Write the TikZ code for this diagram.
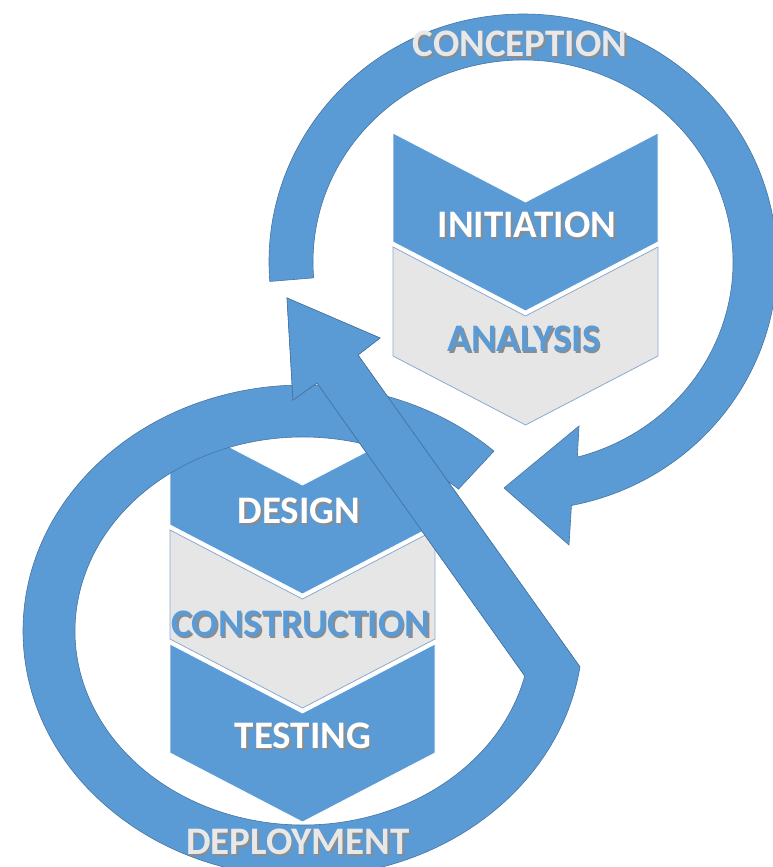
\documentclass[tikz,border=0pt]{standalone}
\usepackage{fontspec}
\setmainfont{Carlito}
\usetikzlibrary{calc}
\definecolor{ringblue}{RGB}{91,155,213}
\definecolor{ringedge}{RGB}{70,116,162}
\definecolor{stepgray}{RGB}{231,230,230}
\definecolor{stepedge}{RGB}{138,170,208}
\definecolor{labelgray}{RGB}{232,232,232}
\newcommand{\shadowed}[2]{\rlap{\hspace{1.5pt}\raisebox{-1.5pt}{\color{black!45}#2}}{\color{#1}#2}}

\begin{document}
\begin{tikzpicture}[x=1pt,y=-1pt,
    ring/.style={fill=ringblue,draw=ringedge,line width=0.6pt},
    bluestep/.style={fill=ringblue,draw=white,line width=0.8pt},
    graystep/.style={fill=stepgray,draw=stepedge,line width=0.8pt},
    steplabel/.style={font=\fontsize{39}{41}\selectfont\bfseries,inner sep=0pt}]
    \clip (0,0) rectangle (773,867);
    \coordinate (upper) at (523,262);
    \coordinate (lower) at (303,631);

    % phase chevrons
    \filldraw[bluestep] (393,133) -- ++(132.5,69) -- ++(132.5,-69) -- ++(0,109) -- ++(-132.5,69) -- ++(-132.5,-69) -- cycle;
    \filldraw[graystep] (393,247) -- ++(132.5,69) -- ++(132.5,-69) -- ++(0,109) -- ++(-132.5,69) -- ++(-132.5,-69) -- cycle;
    \filldraw[bluestep] (170,416) -- ++(132.5,69) -- ++(132.5,-69) -- ++(0,109) -- ++(-132.5,69) -- ++(-132.5,-69) -- cycle;
    \filldraw[graystep] (170,530) -- ++(132.5,69) -- ++(132.5,-69) -- ++(0,109) -- ++(-132.5,69) -- ++(-132.5,-69) -- cycle;
    \filldraw[bluestep] (170,644) -- ++(132.5,69) -- ++(132.5,-69) -- ++(0,109) -- ++(-132.5,69) -- ++(-132.5,-69) -- cycle;

    % upper loop
    \filldraw[ring] ($(upper)+(175.5:254 and 248)$) arc[start angle=175.5,end angle=439,x radius=254,y radius=248]
        -- (569,545) -- (504,488) -- (579,426) -- ($(upper)+(435:210 and 202)$)
        arc[start angle=435,end angle=175.5,x radius=210,y radius=202] -- cycle;

    % lower loop and the long arrow
    \filldraw[ring] ($(lower)+(-47:280 and 246)$) arc[start angle=-47,end angle=-351.6,x radius=280,y radius=246]
        -- (358,355) -- (380,338) -- (287,298) -- (293,400) -- (317,383) -- ($(lower)+(13.4:228 and 194)$)
        arc[start angle=-346.6,end angle=-47,x radius=228,y radius=194] -- cycle;
    \filldraw[ring] ($(lower)+(8.4:280 and 246)$) -- (358,355) -- (380,338) -- (287,298) -- (293,400) -- (317,383) -- ($(lower)+(13.4:228 and 194)$);

    \node[steplabel] (conception) at (520,45) {\shadowed{labelgray}{CONCEPTION}};
    \node[steplabel] (initiation) at (527,226) {\shadowed{white}{INITIATION}};
    \node[steplabel] (analysis) at (524,340) {\shadowed{ringblue}{ANALYSIS}};
    \node[steplabel] (design) at (299,512) {\shadowed{white}{DESIGN}};
    \node[steplabel] (construction) at (301,625) {\shadowed{ringblue}{CONSTRUCTION}};
    \node[steplabel] (testing) at (303,737) {\shadowed{white}{TESTING}};
    \node[steplabel] (deployment) at (298,843) {\shadowed{labelgray}{DEPLOYMENT}};
\end{tikzpicture}
\end{document}
